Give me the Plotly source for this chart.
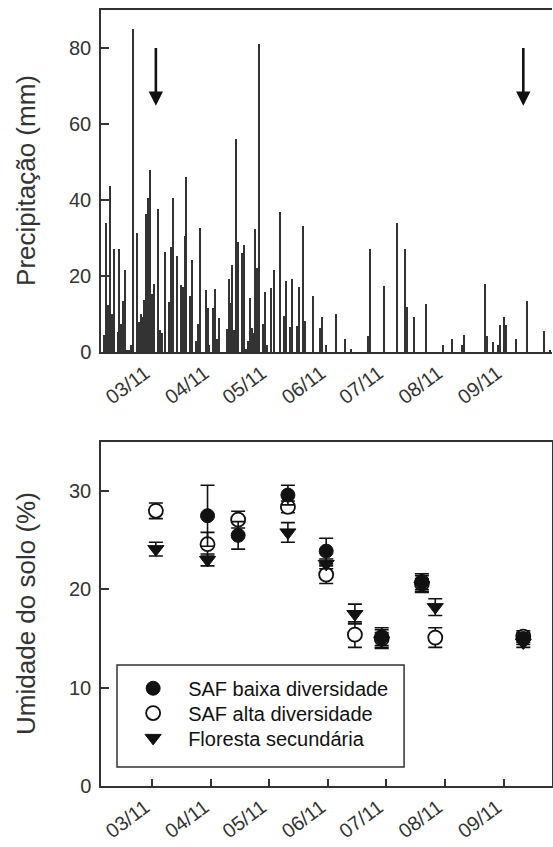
import plotly.graph_objects as go

# ---------------- Precipitation (daily, mm) ----------------
rain_dates = [
    "2011-02-04", "2011-02-05", "2011-02-06", "2011-02-07", "2011-02-08", "2011-02-09",
    "2011-02-11", "2011-02-12", "2011-02-13", "2011-02-14", "2011-02-15", "2011-02-16",
    "2011-02-17", "2011-02-18", "2011-02-19", "2011-02-21", "2011-02-22", "2011-02-23",
    "2011-02-24", "2011-02-25", "2011-02-26", "2011-02-27", "2011-02-28", "2011-03-01",
    "2011-03-02", "2011-03-04", "2011-03-05", "2011-03-06", "2011-03-08", "2011-03-10",
    "2011-03-11", "2011-03-12", "2011-03-14", "2011-03-16", "2011-03-17", "2011-03-18",
    "2011-03-19", "2011-03-21", "2011-03-22", "2011-03-24", "2011-03-25", "2011-03-26",
    "2011-03-29", "2011-03-30", "2011-03-31", "2011-04-02", "2011-04-03", "2011-04-04",
    "2011-04-05", "2011-04-09", "2011-04-10", "2011-04-11", "2011-04-12", "2011-04-13",
    "2011-04-14", "2011-04-15", "2011-04-17", "2011-04-18", "2011-04-19", "2011-04-20",
    "2011-04-21", "2011-04-22", "2011-04-23", "2011-04-24", "2011-04-25", "2011-04-26",
    "2011-04-28", "2011-04-29", "2011-04-30", "2011-05-02", "2011-05-04", "2011-05-07",
    "2011-05-09", "2011-05-10", "2011-05-12", "2011-05-13", "2011-05-16", "2011-05-17",
    "2011-05-19", "2011-05-20", "2011-05-24", "2011-05-28", "2011-05-29", "2011-05-31",
    "2011-06-05", "2011-06-10", "2011-06-13", "2011-06-22", "2011-06-23", "2011-06-30",
    "2011-07-07", "2011-07-11", "2011-07-12", "2011-07-16", "2011-07-22", "2011-07-31",
    "2011-08-05", "2011-08-10", "2011-08-11", "2011-08-22", "2011-08-23", "2011-08-26",
    "2011-08-29", "2011-08-30", "2011-09-01", "2011-09-02", "2011-09-07", "2011-09-13",
    "2011-09-22", "2011-09-25",
]
rain_mm = [
    4.4, 34.0, 12.3, 43.8, 9.9, 27.1,
    5.3, 27.1, 7.3, 13.5, 21.7, 0.6,
    0.6, 1.8, 85.0, 31.4, 7.8, 9.9,
    9.2, 13.6, 36.3, 40.6, 47.8, 15.2,
    17.8, 37.5, 5.9, 5.0, 26.4, 13.2,
    27.7, 40.6, 25.2, 17.6, 17.2, 30.6,
    46.0, 14.8, 24.2, 2.9, 7.3, 32.6,
    16.4, 11.7, 1.9, 11.7, 16.7, 3.3,
    9.0, 6.0, 19.1, 13.0, 23.0, 5.7,
    56.0, 29.0, 26.1, 28.1, 0.7, 3.0,
    14.1, 6.4, 5.0, 32.3, 22.2, 81.0,
    7.3, 15.8, 1.9, 16.9, 21.5, 36.9,
    9.4, 18.6, 6.6, 19.1, 6.9, 17.0,
    33.2, 8.1, 14.8, 6.4, 9.1, 1.9,
    9.9, 3.4, 0.8, 4.2, 27.1, 17.3,
    34.0, 27.2, 11.8, 9.1, 12.5, 1.9,
    3.5, 1.8, 4.6, 17.8, 4.3, 2.6,
    1.8, 7.2, 9.1, 7.2, 3.5, 13.5,
    5.5, 0.6,
]

# Sampling dates marked by arrows
arrow_dates = ["2011-03-03", "2011-09-11"]

# ---------------- Soil moisture (%) ----------------
baixa_dates = ["2011-03-30", "2011-04-15", "2011-05-11", "2011-05-31", "2011-06-29",
               "2011-07-20", "2011-09-11"]
baixa_val = [27.5, 25.5, 29.6, 23.9, 15.2, 20.8, 15.0]
baixa_err = [3.1, 1.4, 1.0, 1.3, 0.9, 0.8, 0.6]

alta_dates = ["2011-03-03", "2011-03-30", "2011-04-15", "2011-05-11", "2011-05-31",
              "2011-06-15", "2011-06-29", "2011-07-20", "2011-07-27", "2011-09-11"]
alta_val = [28.0, 24.6, 27.1, 28.4, 21.5, 15.4, 15.0, 20.6, 15.1, 15.2]
alta_err = [0.8, 1.2, 0.85, 0.6, 0.9, 1.3, 0.9, 0.8, 1.0, 0.6]

flor_dates = ["2011-03-03", "2011-03-30", "2011-05-11", "2011-05-31", "2011-06-15",
              "2011-06-29", "2011-07-20", "2011-07-27", "2011-09-11"]
flor_val = [24.1, 23.0, 25.8, 22.6, 17.5, 14.8, 20.4, 18.2, 14.6]
flor_err = [0.7, 0.6, 1.0, 0.5, 1.0, 0.8, 0.7, 0.85, 0.5]

month_ticks = ["2011-03-01", "2011-04-01", "2011-05-01", "2011-06-01",
               "2011-07-01", "2011-08-01", "2011-09-01"]
x_range = ["2011-02-02 08:00", "2011-09-26"]

INK = "#333333"
FONT = "Liberation Sans, Arial, sans-serif"

fig = go.Figure()

fig.add_trace(go.Bar(
    x=rain_dates, y=rain_mm, xaxis="x", yaxis="y",
    width=0.55 * 86400000,
    marker=dict(color="#333333", line=dict(width=0)),
    showlegend=False,
))

err_style = dict(type="data", thickness=1.6, width=7, color="#111111")

fig.add_trace(go.Scatter(
    x=alta_dates, y=alta_val, xaxis="x2", yaxis="y2", mode="markers",
    name="SAF alta diversidade", legend="legend2",
    error_y=dict(array=alta_err, **err_style),
    marker=dict(symbol="circle", size=14, color="white",
                line=dict(color="#111111", width=1.8)),
))
fig.add_trace(go.Scatter(
    x=baixa_dates, y=baixa_val, xaxis="x2", yaxis="y2", mode="markers",
    name="SAF baixa diversidade", legend="legend",
    error_y=dict(array=baixa_err, **err_style),
    marker=dict(symbol="circle", size=14, color="#111111",
                line=dict(color="#111111", width=1)),
))
fig.add_trace(go.Scatter(
    x=flor_dates, y=flor_val, xaxis="x2", yaxis="y2", mode="markers",
    name="Floresta secundária", legend="legend3",
    error_y=dict(array=flor_err, **err_style),
    marker=dict(symbol="triangle-down", size=14, color="#111111",
                line=dict(color="#111111", width=1)),
))

tick_font = dict(family=FONT, size=20, color=INK)

common_x = dict(type="date", range=x_range, tickvals=month_ticks, tickformat="%m/%y",
                tickangle=-37, tickfont=tick_font, showline=True, linecolor=INK,
                linewidth=1.5, showgrid=False, zeroline=False, automargin=False,
                ticklabelshift=-7)
common_y = dict(ticks="inside", ticklen=8, tickcolor=INK, tickwidth=1.5,
                tickfont=tick_font, showline=True, linecolor=INK, linewidth=1.5,
                showgrid=False, zeroline=False, automargin=False, ticklabelstandoff=4)

leg_common = dict(xanchor="left", yanchor="middle", bgcolor="rgba(0,0,0,0)",
                  borderwidth=0, itemwidth=60,
                  font=dict(family=FONT, size=20, color="#111111"))

fig.update_layout(
    width=553, height=847,
    margin=dict(l=101, r=1, t=10, b=61, autoexpand=False),
    paper_bgcolor="white", plot_bgcolor="white",
    font=dict(family=FONT, color=INK),
    bargap=0,
    xaxis=dict(domain=[0, 1], anchor="y", ticks="", mirror=True, **common_x),
    yaxis=dict(domain=[0.5593, 1], anchor="x", range=[0, 90],
               tickvals=[0, 20, 40, 60, 80], **common_y),
    xaxis2=dict(domain=[0, 1], anchor="y2", ticks="inside", ticklen=7, tickcolor=INK,
                tickwidth=1.5, mirror=True, **common_x),
    yaxis2=dict(domain=[0, 0.4433], anchor="x2", range=[0, 35],
                tickvals=[0, 10, 20, 30], mirror=True, **common_y),
    legend=dict(x=0.038, y=0.126, **leg_common),
    legend2=dict(x=0.038, y=0.094, **leg_common),
    legend3=dict(x=0.038, y=0.062, **leg_common),
    shapes=[dict(type="rect", xref="paper", yref="paper",
                 x0=0.0355, x1=0.672, y0=0.0245, y1=0.156,
                 line=dict(color=INK, width=1.5), fillcolor="rgba(0,0,0,0)")],
    annotations=[
        dict(text="Precipitação (mm)", xref="paper", yref="paper", x=-0.168, y=0.78,
             textangle=-90, showarrow=False, xanchor="center", yanchor="middle",
             font=dict(family=FONT, size=26, color=INK)),
        dict(text="Umidade do solo (%)", xref="paper", yref="paper", x=-0.168, y=0.222,
             textangle=-90, showarrow=False, xanchor="center", yanchor="middle",
             font=dict(family=FONT, size=26, color=INK)),
    ],
)

for d in arrow_dates:
    fig.add_annotation(x=d, y=64.8, ax=d, ay=80.4, xref="x", yref="y", axref="x", ayref="y",
                       text="", showarrow=True, arrowhead=2, arrowsize=1.1, arrowwidth=2.6,
                       arrowcolor="#111111")

fig.write_html(
    "out.html",
    config={"displayModeBar": False},
    post_script="document.body.style.margin='0';document.body.style.overflow='hidden';",
)
